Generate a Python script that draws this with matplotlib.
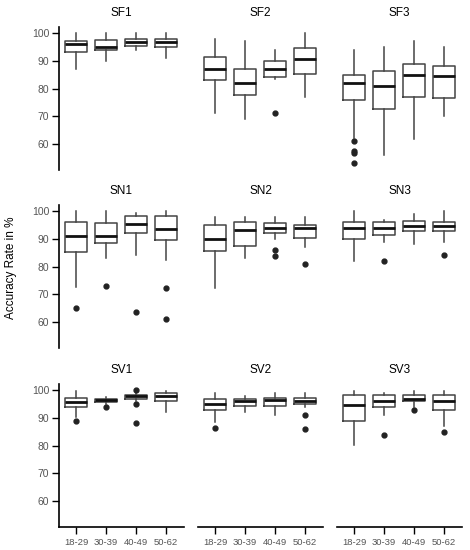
import matplotlib
matplotlib.use('Agg')
import matplotlib.pyplot as plt

plt.rcParams['font.family'] = ['Liberation Sans', 'DejaVu Sans']

groups = ['18-29', '30-39', '40-49', '50-62']
panels = ['SF1', 'SF2', 'SF3', 'SN1', 'SN2', 'SN3', 'SV1', 'SV2', 'SV3']

# low whisker, q1, median, q3, high whisker for each age group
low = {
    'SF1': [87.0, 90.0, 93.9, 91.1],
    'SF2': [71.0, 69.0, 83.3, 77.1],
    'SF3': [62.0, 56.0, 61.7, 70.1],
    'SN1': [72.7, 82.9, 84.1, 82.2],
    'SN2': [72.1, 83.1, 89.8, 87.0],
    'SN3': [82.1, 89.0, 88.1, 89.0],
    'SV1': [90.4, 95.0, 96.2, 92.0],
    'SV2': [88.5, 92.0, 91.0, 94.0],
    'SV3': [80.1, 90.9, 94.0, 87.0],
}
q1 = {
    'SF1': [93.0, 94.0, 95.3, 95.0],
    'SF2': [82.9, 77.5, 84.3, 85.3],
    'SF3': [75.7, 72.5, 76.9, 76.7],
    'SN1': [85.1, 88.6, 92.1, 89.4],
    'SN2': [85.6, 87.5, 92.1, 90.3],
    'SN3': [89.9, 91.5, 92.9, 92.9],
    'SV1': [93.8, 95.8, 96.9, 95.9],
    'SV2': [92.8, 94.4, 94.1, 95.0],
    'SV3': [88.8, 93.9, 95.9, 92.8],
}
med = {
    'SF1': [96.2, 95.0, 96.9, 96.9],
    'SF2': [87.0, 82.1, 87.0, 90.5],
    'SF3': [82.1, 81.0, 84.7, 84.5],
    'SN1': [91.1, 91.1, 95.4, 93.6],
    'SN2': [89.8, 93.0, 94.0, 94.0],
    'SN3': [94.0, 94.0, 94.7, 94.7],
    'SV1': [95.8, 96.4, 98.0, 98.0],
    'SV2': [95.1, 95.9, 96.6, 95.9],
    'SV3': [94.8, 95.9, 96.9, 95.9],
}
q3 = {
    'SF1': [97.1, 97.6, 98.0, 98.0],
    'SF2': [91.5, 87.1, 90.0, 94.7],
    'SF3': [85.0, 86.5, 88.7, 88.1],
    'SN1': [96.0, 95.6, 98.1, 98.1],
    'SN2': [95.1, 96.0, 95.7, 95.1],
    'SN3': [96.0, 96.0, 96.5, 96.0],
    'SV1': [97.1, 96.9, 98.3, 99.0],
    'SV2': [96.9, 96.9, 97.0, 97.0],
    'SV3': [98.1, 98.1, 98.1, 98.1],
}
high = {
    'SF1': [100.0, 100.0, 100.0, 100.0],
    'SF2': [98.0, 97.0, 94.0, 100.0],
    'SF3': [94.0, 95.0, 97.0, 95.0],
    'SN1': [100.0, 100.0, 99.2, 100.0],
    'SN2': [98.0, 98.0, 98.0, 98.0],
    'SN3': [100.0, 96.9, 99.0, 100.0],
    'SV1': [99.8, 97.6, 99.2, 99.8],
    'SV2': [98.8, 97.8, 98.8, 98.8],
    'SV3': [99.8, 98.8, 99.8, 99.8],
}
outliers = {
    'SF1': [[], [], [], []],
    'SF2': [[], [], [71.0], []],
    'SF3': [[61.0, 57.6, 56.8, 53.2], [], [], []],
    'SN1': [[65.0], [73.1], [63.7], [72.1, 61.1]],
    'SN2': [[], [], [86.1, 83.9], [81.0]],
    'SN3': [[], [82.1], [], [84.0]],
    'SV1': [[88.7], [93.9], [100.0, 95.0, 88.0], []],
    'SV2': [[86.5], [], [], [91.0, 85.8]],
    'SV3': [[], [83.7], [92.8], [84.9]],
}

W, H = 470, 550
fig = plt.figure(figsize=(W / 100, H / 100), dpi=100)

col_x = [59, 198, 337]
row_top = [27, 205, 384]
aw, ah = 125, 143

for k, name in enumerate(panels):
    r, c = divmod(k, 3)
    ax = fig.add_axes([col_x[c] / W, 1 - (row_top[r] + ah) / H, aw / W, ah / H])
    stats = []
    for i in range(4):
        stats.append({'whislo': low[name][i], 'q1': q1[name][i], 'med': med[name][i],
                      'q3': q3[name][i], 'whishi': high[name][i],
                      'fliers': outliers[name][i]})
    ax.bxp(stats, positions=range(4), widths=0.76, showcaps=False,
           boxprops=dict(color='#444444', linewidth=1.1),
           whiskerprops=dict(color='#444444', linewidth=1.1),
           medianprops=dict(color='#111111', linewidth=2.0),
           flierprops=dict(marker='o', markerfacecolor='#222222', markeredgecolor='#222222',
                           markersize=3.5))
    ax.set_xlim(-0.57, 3.6)
    ax.set_ylim(50.6, 102.2)
    ax.set_title(name, fontsize=8.5, pad=8)
    for s in ['top', 'right', 'left', 'bottom']:
        ax.spines[s].set_visible(False)
    if c == 0:
        ax.spines['left'].set_visible(True)
        ax.spines['left'].set_linewidth(1.2)
        ax.set_yticks([60, 70, 80, 90, 100])
        ax.tick_params(axis='y', length=5, width=1, pad=2, labelsize=7.5, labelcolor='#555555')
    else:
        ax.set_yticks([])
    if r == 2:
        ax.spines['bottom'].set_visible(True)
        ax.spines['bottom'].set_linewidth(1.2)
        ax.set_xticks(range(4))
        ax.set_xticklabels(groups)
        ax.tick_params(axis='x', length=5, width=1, pad=3, labelsize=6.8, labelcolor='#555555')
    else:
        ax.set_xticks([])

fig.text(11 / W, 1 - 268 / H, 'Accuracy Rate in %', rotation=90, va='center', ha='center',
         fontsize=8.5)

fig.savefig('out.png', dpi=100)
